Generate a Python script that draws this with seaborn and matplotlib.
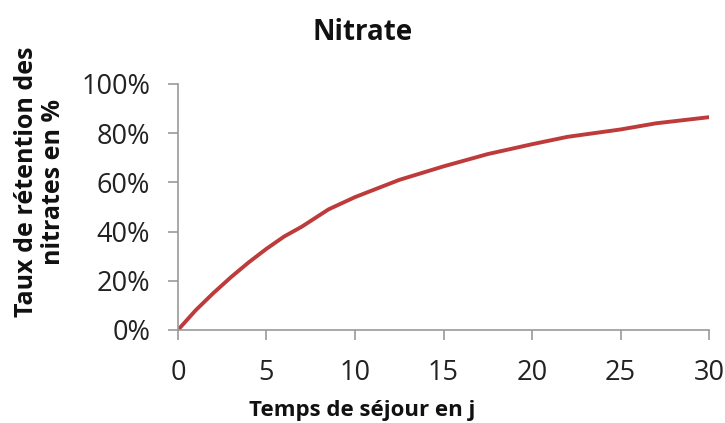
import matplotlib
matplotlib.use("Agg")
import matplotlib.pyplot as plt
import seaborn as sns
import pandas as pd
from matplotlib.ticker import PercentFormatter

# Values
temps = [0, 1, 2, 3, 4, 5, 6, 7, 8.5, 10, 12.5, 15, 17.5, 20, 22, 25, 27, 30]
retention = [0, 0.08, 0.15, 0.215, 0.275, 0.33, 0.38, 0.42, 0.49, 0.54, 0.61, 0.665, 0.715, 0.755, 0.785, 0.815, 0.84, 0.865]

df = pd.DataFrame({"temps": temps, "retention": retention})

sns.set_style("white")
plt.rcParams['font.family'] = ['Open Sans', 'DejaVu Sans']

fig = plt.figure(figsize=(7.25, 4.23), dpi=100)
ax = fig.add_axes([0.2455, 0.22, 0.7325, 0.5815])

sns.lineplot(data=df, x="temps", y="retention", color="#BE3B3B", linewidth=2.8, ax=ax)

ax.set_xlim(0, 30)
ax.set_ylim(0, 1)
ax.set_xticks(range(0, 31, 5))
ax.set_yticks([0, 0.2, 0.4, 0.6, 0.8, 1.0])
ax.yaxis.set_major_formatter(PercentFormatter(1.0, decimals=0))

for side in ["top", "right"]:
    ax.spines[side].set_visible(False)
for side in ["left", "bottom"]:
    ax.spines[side].set_color("#999999")
    ax.spines[side].set_linewidth(1.2)

ax.tick_params(axis="both", which="major", direction="out", length=7, width=1.2,
               color="#999999", labelsize=19.5, labelcolor="#222222", left=True, bottom=True)
ax.tick_params(axis="x", pad=14)
ax.tick_params(axis="y", pad=13)

ax.set_xlabel("")
ax.set_ylabel("")
fig.text(0.5, 0.922, "Nitrate", ha="center", va="center", fontsize=20, fontweight="bold", color="#111111")
fig.text(0.5, 0.03, "Temps de séjour en j", ha="center", va="center", fontsize=16, fontweight="bold", color="#111111")
fig.text(0.055, 0.57, "Taux de rétention des\nnitrates en %", ha="center", va="center", rotation=90,
         fontsize=18, fontweight="bold", color="#111111", linespacing=1.1)

fig.savefig("out.png", dpi=100)
